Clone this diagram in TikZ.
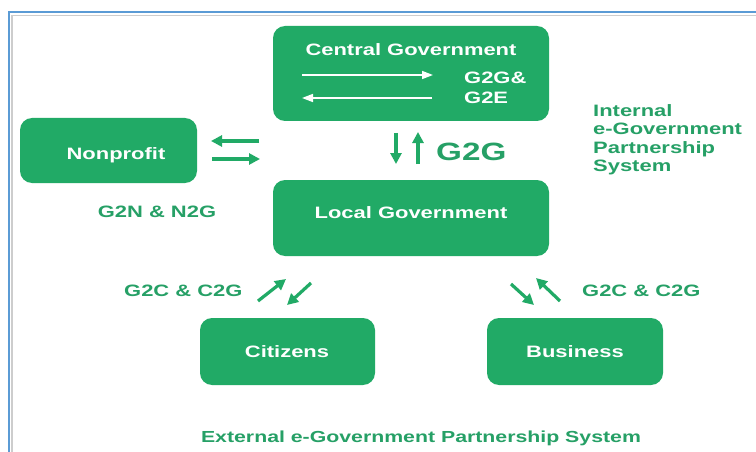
\documentclass[tikz,border=0pt]{standalone}
\usepackage{fontspec}
\usetikzlibrary{arrows.meta}
\newfontfamily\labfont{Liberation Sans}[FakeStretch=1.33]
\definecolor{boxgreen}{RGB}{33,170,102}
\definecolor{txtgreen}{RGB}{38,160,102}
\definecolor{frameblue}{RGB}{91,155,213}
\definecolor{framegray}{RGB}{205,205,205}
\tikzset{
  gbox/.style={fill=boxgreen, rounded corners=12pt, draw=none, inner sep=0pt},
  wtext/.style={text=white, font=\labfont\bfseries\fontsize{16.5}{18}\selectfont, inner sep=0pt},
  gtext/.style={text=txtgreen, font=\labfont\bfseries\fontsize{16.5}{18.5}\selectfont, inner sep=0pt},
  warrow/.style={draw=white, line width=1.6pt, -{Triangle[length=11pt,width=8pt]}},
  garrow/.style={draw=boxgreen, line width=3.2pt, -{Triangle[length=11pt,width=11pt]}},
}
\begin{document}
\begin{tikzpicture}[x=1pt,y=-1pt]
\useasboundingbox (0,0) rectangle (756,452);
\fill[white] (0,0) rectangle (756,452);
% frame
\draw[framegray, line width=1.2pt] (12,452) -- (12,15.5) -- (756,15.5);
\draw[frameblue, line width=2.4pt] (9,452) -- (9,12) -- (756,12);

% boxes
\node[gbox, minimum width=276pt, minimum height=95pt] (cg) at (411,73.5) {};
\node[gbox, minimum width=276pt, minimum height=76pt] (lg) at (411,218) {};
\node[gbox, minimum width=177pt, minimum height=65pt] (np) at (108.5,150.5) {};
\node[gbox, minimum width=175pt, minimum height=67pt] (ci) at (287.5,351.5) {};
\node[gbox, minimum width=176pt, minimum height=67pt] (bu) at (575,351.5) {};

% box labels
\node[wtext] (cgt) at (411,50) {Central Government};
\node[wtext] (lgt) at (411,213) {Local Government};
\node[wtext] (npt) at (116,155) {Nonprofit};
\node[wtext] (cit) at (287,352) {Citizens};
\node[wtext] (but) at (575,352) {Business};
\node[wtext, anchor=west] (g2g1) at (464,78) {G2G\&};
\node[wtext, anchor=west] (g2e) at (464,98) {G2E};

% inner arrows
\coordinate (ia1) at (302,75); \coordinate (ib1) at (433,75);
\coordinate (ia2) at (432,98); \coordinate (ib2) at (302,98);
\draw[warrow] (ia1) -- (ib1);
\draw[warrow] (ia2) -- (ib2);

% G2G arrows
\coordinate (d1) at (396,133); \coordinate (d2) at (396,164);
\coordinate (u1) at (418,164); \coordinate (u2) at (418,132);
\draw[garrow] (d1) -- (d2);
\draw[garrow] (u1) -- (u2);
\node[gtext, font=\labfont\bfseries\fontsize{25}{27}\selectfont, anchor=west] (g2g) at (436,152) {G2G};

% nonprofit arrows
\coordinate (n1) at (259,141); \coordinate (n2) at (211,141);
\coordinate (n3) at (212,159); \coordinate (n4) at (260,159);
\draw[garrow] (n1) -- (n2);
\draw[garrow] (n3) -- (n4);
\node[gtext] (g2n) at (157,212) {G2N \& N2G};

% citizens arrows
\coordinate (c1) at (258,301); \coordinate (c2) at (286,279);
\coordinate (c3) at (311,283); \coordinate (c4) at (287,305);
\draw[garrow] (c1) -- (c2);
\draw[garrow] (c3) -- (c4);
\node[gtext, anchor=west] (g2cl) at (124,291) {G2C \& C2G};

% business arrows
\coordinate (b1) at (511,284); \coordinate (b2) at (534,305);
\coordinate (b3) at (560,301); \coordinate (b4) at (536,278);
\draw[garrow] (b1) -- (b2);
\draw[garrow] (b3) -- (b4);
\node[gtext, anchor=west] (g2cr) at (582,291) {G2C \& C2G};

% internal system label
\node[gtext, anchor=north west, align=left] (ints) at (593,104) {Internal\\e-Government\\Partnership\\System};

% external label
\node[gtext, font=\labfont\bfseries\fontsize{16}{18}\selectfont] (exts) at (421,438) {External e-Government Partnership System};
\end{tikzpicture}
\end{document}
